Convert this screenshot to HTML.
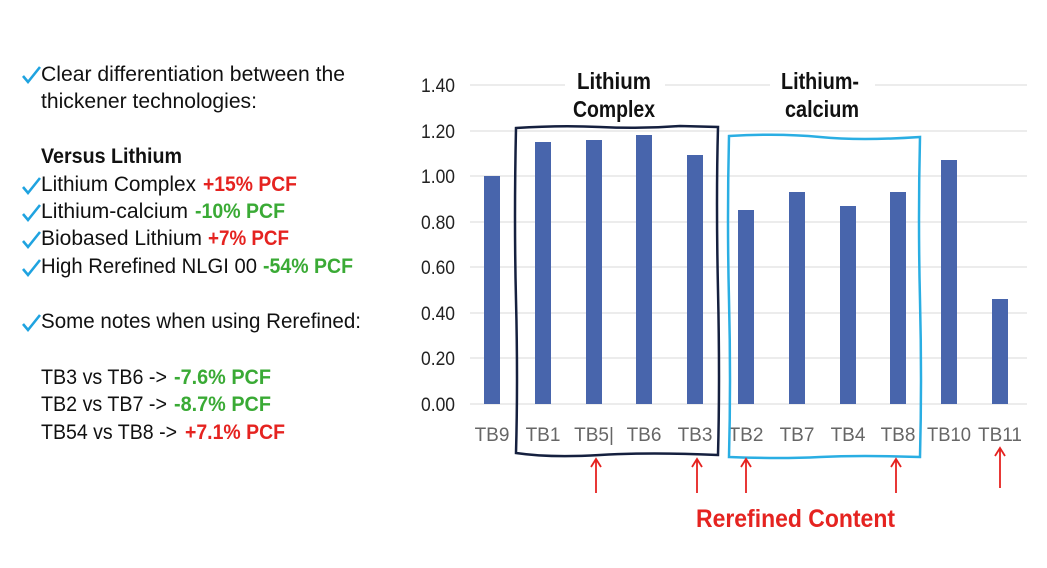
<!DOCTYPE html>
<html><head><meta charset="utf-8"><style>
html,body{margin:0;padding:0;background:#fff;width:1047px;height:568px;overflow:hidden}
svg text{font-family:"Liberation Sans",sans-serif}
</style></head><body>
<svg width="1047" height="568" viewBox="0 0 1047 568" xmlns="http://www.w3.org/2000/svg">
<defs>
<path id="ck" d="M0 9 L5 15 L17 0" fill="none" stroke="#1fa3e0" stroke-width="2.6"/>
</defs>
<g font-size="21" fill="#111">
<use href="#ck" x="23" y="67"/>
<text x="41" y="81" textLength="304" lengthAdjust="spacingAndGlyphs">Clear differentiation between the</text>
<text x="41" y="108" textLength="216" lengthAdjust="spacingAndGlyphs">thickener technologies:</text>
<text x="41" y="163" font-weight="bold" textLength="141" lengthAdjust="spacingAndGlyphs">Versus Lithium</text>
<use href="#ck" x="23" y="178"/>
<text x="41" y="191" textLength="155" lengthAdjust="spacingAndGlyphs">Lithium Complex</text>
<text x="203" y="191" font-weight="bold" fill="#e52320" textLength="94" lengthAdjust="spacingAndGlyphs">+15% PCF</text>
<use href="#ck" x="23" y="205"/>
<text x="41" y="218" textLength="147" lengthAdjust="spacingAndGlyphs">Lithium-calcium</text>
<text x="195" y="218" font-weight="bold" fill="#3aaa35" textLength="90" lengthAdjust="spacingAndGlyphs">-10% PCF</text>
<use href="#ck" x="23" y="232"/>
<text x="41" y="245" textLength="161" lengthAdjust="spacingAndGlyphs">Biobased Lithium</text>
<text x="208" y="245" font-weight="bold" fill="#e52320" textLength="81" lengthAdjust="spacingAndGlyphs">+7% PCF</text>
<use href="#ck" x="23" y="260"/>
<text x="41" y="273" textLength="216" lengthAdjust="spacingAndGlyphs">High Rerefined NLGI 00</text>
<text x="263" y="273" font-weight="bold" fill="#3aaa35" textLength="90" lengthAdjust="spacingAndGlyphs">-54% PCF</text>
<use href="#ck" x="23" y="315"/>
<text x="41" y="328" textLength="320" lengthAdjust="spacingAndGlyphs">Some notes when using Rerefined:</text>
<text x="41" y="384" textLength="126" lengthAdjust="spacingAndGlyphs">TB3 vs TB6 -&gt;</text>
<text x="174" y="384" font-weight="bold" fill="#3aaa35" textLength="97" lengthAdjust="spacingAndGlyphs">-7.6% PCF</text>
<text x="41" y="411" textLength="126" lengthAdjust="spacingAndGlyphs">TB2 vs TB7 -&gt;</text>
<text x="174" y="411" font-weight="bold" fill="#3aaa35" textLength="97" lengthAdjust="spacingAndGlyphs">-8.7% PCF</text>
<text x="41" y="439" textLength="136" lengthAdjust="spacingAndGlyphs">TB54 vs TB8 -&gt;</text>
<text x="185" y="439" font-weight="bold" fill="#e52320" textLength="100" lengthAdjust="spacingAndGlyphs">+7.1% PCF</text>
</g>
<g stroke="#d9d9d9" stroke-width="1">
<line x1="470" y1="85" x2="1027" y2="85"/>
<line x1="470" y1="131" x2="1027" y2="131"/>
<line x1="470" y1="176" x2="1027" y2="176"/>
<line x1="470" y1="222" x2="1027" y2="222"/>
<line x1="470" y1="267" x2="1027" y2="267"/>
<line x1="470" y1="313" x2="1027" y2="313"/>
<line x1="470" y1="358" x2="1027" y2="358"/>
<line x1="470" y1="404" x2="1027" y2="404"/>
</g>
<g font-size="19" fill="#222" text-anchor="end">
<text x="455" y="92" textLength="34" lengthAdjust="spacingAndGlyphs">1.40</text>
<text x="455" y="138" textLength="34" lengthAdjust="spacingAndGlyphs">1.20</text>
<text x="455" y="183" textLength="34" lengthAdjust="spacingAndGlyphs">1.00</text>
<text x="455" y="229" textLength="34" lengthAdjust="spacingAndGlyphs">0.80</text>
<text x="455" y="274" textLength="34" lengthAdjust="spacingAndGlyphs">0.60</text>
<text x="455" y="320" textLength="34" lengthAdjust="spacingAndGlyphs">0.40</text>
<text x="455" y="365" textLength="34" lengthAdjust="spacingAndGlyphs">0.20</text>
<text x="455" y="411" textLength="34" lengthAdjust="spacingAndGlyphs">0.00</text>
</g>
<rect x="565" y="70" width="100" height="20" fill="#fff"/>
<rect x="770" y="70" width="105" height="20" fill="#fff"/>
<g font-size="23" font-weight="bold" fill="#111" text-anchor="middle">
<text x="614" y="89" textLength="74" lengthAdjust="spacingAndGlyphs">Lithium</text>
<text x="614" y="117" textLength="82" lengthAdjust="spacingAndGlyphs">Complex</text>
<text x="820" y="89" textLength="78" lengthAdjust="spacingAndGlyphs">Lithium-</text>
<text x="822" y="117" textLength="74" lengthAdjust="spacingAndGlyphs">calcium</text>
</g>
<g fill="#4865ac">
<rect x="484" y="176" width="16" height="228"/>
<rect x="535" y="142" width="16" height="262"/>
<rect x="586" y="140" width="16" height="264"/>
<rect x="636" y="135" width="16" height="269"/>
<rect x="687" y="155" width="16" height="249"/>
<rect x="738" y="210" width="16" height="194"/>
<rect x="789" y="192" width="16" height="212"/>
<rect x="840" y="206" width="16" height="198"/>
<rect x="890" y="192" width="16" height="212"/>
<rect x="941" y="160" width="16" height="244"/>
<rect x="992" y="299" width="16" height="105"/>
</g>
<g font-size="19" fill="#666" text-anchor="middle">
<text x="492" y="441">TB9</text><text x="543" y="441">TB1</text><text x="594" y="441">TB5|</text>
<text x="644" y="441">TB6</text><text x="695" y="441">TB3</text><text x="746" y="441">TB2</text>
<text x="797" y="441">TB7</text><text x="848" y="441">TB4</text><text x="898" y="441">TB8</text>
<text x="949" y="441" textLength="44" lengthAdjust="spacingAndGlyphs">TB10</text><text x="1000" y="441" textLength="44" lengthAdjust="spacingAndGlyphs">TB11</text>
</g>
<path d="M516 128 Q560 125 600 127 T680 126 L718 127 Q716 200 718 290 T718 455 Q650 452 600 455 T516 453 Q518 380 516 300 T516 128 Z" fill="none" stroke="#15203f" stroke-width="2.5"/>
<path d="M729 136 Q780 133 820 137 T920 137 Q918 220 920 300 T920 457 Q860 455 820 457 T729 457 Q731 380 729 300 T729 136 Z" fill="none" stroke="#2aaee3" stroke-width="2.5"/>
<g stroke="#e52320" stroke-width="1.8" fill="none">
<path d="M596 493 V459 M591 467 L596 459 L601 467"/>
<path d="M697 493 V459 M692 467 L697 459 L702 467"/>
<path d="M746 493 V459 M741 467 L746 459 L751 467"/>
<path d="M896 493 V459 M891 467 L896 459 L901 467"/>
<path d="M1000 488 V448 M995 456 L1000 448 L1005 456"/>
</g>
<text x="696" y="527" font-size="25" font-weight="bold" fill="#e52320" textLength="199" lengthAdjust="spacingAndGlyphs">Rerefined Content</text>
</svg>
</body></html>
